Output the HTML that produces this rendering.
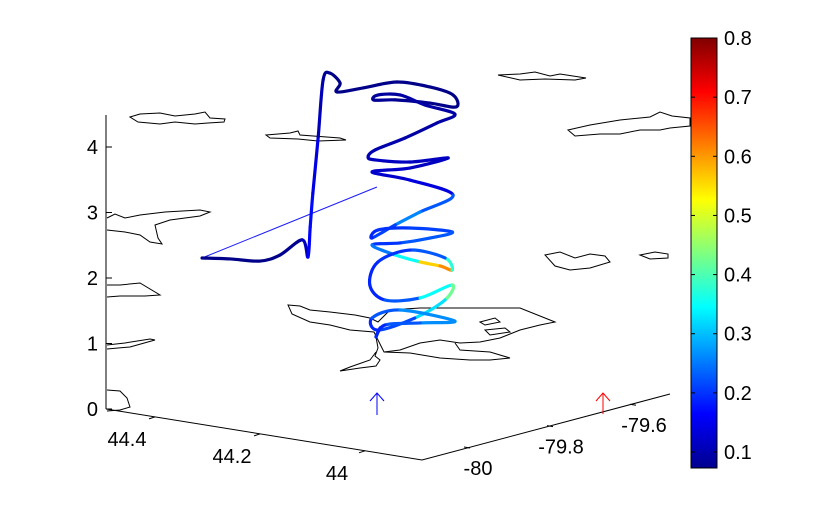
<!DOCTYPE html>
<html><head><meta charset="utf-8"><style>
html,body{margin:0;padding:0;background:#fff;}
svg{display:block;font-family:"Liberation Sans",sans-serif;}
text{font-size:20px;fill:#000;}
</style></head><body>
<svg id="chart" width="816" height="528" viewBox="0 0 816 528" xmlns="http://www.w3.org/2000/svg">
<defs>
<linearGradient id="jet" x1="0" y1="1" x2="0" y2="0">
<stop offset="0" stop-color="#00008f"/><stop offset="0.125" stop-color="#0000ff"/><stop offset="0.375" stop-color="#00ffff"/><stop offset="0.625" stop-color="#ffff00"/><stop offset="0.875" stop-color="#ff0000"/><stop offset="1" stop-color="#800000"/>
</linearGradient>
</defs>
<g fill="none" stroke="#000" stroke-width="1">
<path d="M130,117 L140,114 L160,113 L175,116 L195,114 L205,112 L210,118 L225,119 L224,122 L208,123 L195,124 L175,122 L160,124 L138,122 Z"/>
<path d="M266,135 L290,133 L298,131 L300,135 L340,138 L346,140 L318,141 L298,139 L270,138 Z"/>
<path d="M498,75 L520,74 L535,72 L550,76 L560,74 L586,78 L575,80 L545,79 L520,80 Z"/>
<path d="M568,130 L590,125 L620,120 L650,117 L660,112 L672,116 L690,118 L690,126 L670,128 L660,130 L640,130 L620,134 L600,134 L575,136 Z"/>
<path d="M107,218 L115,214 L125,218 L140,215 L165,212 L200,210 L210,212 L200,216 L170,220 L155,225 L158,238 L162,244 L150,242 L140,235 L125,232 L107,230"/>
<path d="M107,285 L120,285 L140,283 L160,295 L145,296 L120,296 L107,297"/>
<path d="M107,345 L125,343 L150,339 L155,340 L130,347 L107,349"/>
<path d="M107,390 L120,391 L127,398 L130,407 L120,410 L107,411"/>
<path d="M288,305 L300,306 L310,310 L330,312 L355,315 L370,318 L378,322 L390,310 L420,308 L480,308 L520,308 L555,322 L540,325 L520,330 L500,338 L480,342 L460,343 L440,340 L420,343 L400,350 L384,352 L378,340 L374,332 L350,330 L330,325 L310,322 L292,314 Z"/>
<path d="M376,337 L378,348 L375,356 L380,360 L376,366 L360,368 L340,371 L350,367 L370,360 L376,352"/>
<path d="M384,352 L410,353 L440,358 L470,360 L490,360 L510,358 L490,352 L460,350 L455,343"/>
<path d="M480,322 L495,318 L500,322 L485,325 Z"/>
<path d="M485,330 L505,328 L510,332 L490,335 Z"/>
<path d="M545,255 L560,252 L575,258 L590,254 L605,256 L610,262 L590,268 L570,270 L555,266 Z"/>
<path d="M640,255 L655,252 L668,254 L668,258 L650,259 Z"/>
</g>
<g id="axes" stroke="#000" stroke-width="1" fill="none"></g>
<g id="axis-labels"></g>
<g id="marks"></g>
<g stroke="#0000ff" fill="none" stroke-width="1">
<line x1="377" y1="393" x2="377" y2="415"/><polyline points="370,401 377,393 384,401"/>
</g>
<g stroke="#ff0000" fill="none" stroke-width="1">
<line x1="603" y1="393" x2="603" y2="414"/><polyline points="596,401 603,393 610,401"/>
</g>
<g id="cbar"></g>
</svg>
<script>
// ---- data ----
const lat = 44.1;
const lon = [-80.403,-80.340,-80.273,-80.228,-80.178,-80.165,-80.160,-80.154,-80.142,-80.131,-80.116,-80.093,-80.100,-80.041,-79.965,-79.891,-79.839,-79.832,-79.891,-79.969,-80.017,-80.008,-79.958,-79.902,-79.835,-79.875,-79.947,-80.014,-80.030,-80.014,-79.936,-79.850,-79.936,-80.021,-79.936,-79.839,-79.913,-79.969,-80.021,-80.008,-79.936,-79.841,-79.891,-79.958,-80.021,-79.969,-79.913,-79.868,-79.841,-79.857,-79.936,-80.008,-80.026,-79.992,-79.913,-79.841,-79.857,-79.925,-80.008,-80.021,-79.958,-79.835,-79.913,-79.992,-80.012,-80.003];
const alt = [3.390,3.232,3.047,3.037,3.156,2.863,3.315,3.823,4.658,5.510,5.582,5.377,5.254,5.182,5.100,4.855,4.614,4.414,4.608,4.834,4.941,4.998,4.885,4.603,4.311,4.265,4.198,4.167,4.095,4.013,3.803,3.670,3.711,3.844,3.526,3.075,2.983,2.911,2.828,2.921,2.788,2.511,2.531,2.608,2.721,2.449,2.213,2.049,1.926,2.147,2.449,2.428,2.115,1.808,1.660,1.696,1.501,1.377,1.382,1.597,1.577,1.126,1.275,1.423,1.285,1.403];
const val = [0.08,0.08,0.08,0.08,0.09,0.15,0.18,0.16,0.13,0.1,0.08,0.08,0.08,0.08,0.08,0.08,0.08,0.08,0.08,0.09,0.09,0.09,0.1,0.1,0.1,0.1,0.1,0.11,0.11,0.12,0.12,0.12,0.12,0.13,0.13,0.15,0.3,0.22,0.2,0.18,0.22,0.2,0.25,0.2,0.2,0.3,0.4,0.72,0.5,0.25,0.2,0.2,0.18,0.2,0.25,0.45,0.4,0.25,0.18,0.2,0.25,0.28,0.25,0.2,0.18,0.2];
const thinLon = [-80.010,-80.403];
const thinAlt = [3.587,3.390];
const zTicks = [0,1,2,3,4];
const latTicks = [44.4,44.2,44];
const lonTicks = [-80,-79.8,-79.6];
const cbTicks = [0.1,0.2,0.3,0.4,0.5,0.6,0.7,0.8];
const cMin = 0.073, cMax = 0.8;

// ---- projection ----
function px(lo,la,z){return 418-(la-43.904)*550+(lo+80.16)*445;}
function py(lo,la,z){return 461-(la-43.904)*95-(lo+80.16)*148-z*65;}
function zY(z){return 409-z*65.5;}
function latPt(l){const x=365+(44-l)*525;return [x, 409+(x-106)*(51/316)];}
function lonPt(l){return [470+(l+80)*415, 448-(l+80)*107];}
function cbY(v){return 468-(v-cMin)/(cMax-cMin)*430;}
function jet(v){
  let t=(v-cMin)/(cMax-cMin);t=Math.max(0,Math.min(1,t));
  const f=x=>Math.round(255*Math.max(0,Math.min(1,1.5-Math.abs(4*t-x))));
  return `rgb(${f(3)},${f(2)},${f(1)})`;
}
const NS='http://www.w3.org/2000/svg';
function mk(tag,attrs,parent){const e=document.createElementNS(NS,tag);for(const k in attrs)e.setAttribute(k,attrs[k]);parent.appendChild(e);return e;}

// ---- axes ----
const ax=document.getElementById('axes'), al=document.getElementById('axis-labels');
let e=mk('line',{x1:106,y1:115,x2:106,y2:409},ax);


e=mk('polyline',{points:'106,409 422,460 670,394'},ax);


zTicks.forEach(z=>{
  const y=zY(z);
  mk('line',{x1:106,y1:y,x2:112,y2:y},ax);
  const t=mk('text',{x:98,y:y+7,'text-anchor':'end'},al);t.textContent=z;
  
  
});
latTicks.forEach(l=>{
  const [x,y]=latPt(l);
  mk('line',{x1:x,y1:y,x2:x-6,y2:y+2},ax);
  const t=mk('text',{x:x-28,y:y+29,'text-anchor':'middle'},al);t.textContent=l;
  
  
});
lonTicks.forEach(l=>{
  const [x,y]=lonPt(l);
  mk('line',{x1:x,y1:y,x2:x-6,y2:y-1},ax);
  const t=mk('text',{x:x+8,y:y+27,'text-anchor':'middle'},al);t.textContent=l;
  
  
});

// ---- marks ----
const mg=document.getElementById('marks');
e=mk('line',{x1:px(thinLon[0],lat,thinAlt[0]),y1:py(thinLon[0],lat,thinAlt[0]),x2:px(thinLon[1],lat,thinAlt[1]),y2:py(thinLon[1],lat,thinAlt[1]),stroke:'#1a1aff','stroke-width':1},mg);


const P=lon.map((l,i)=>[px(l,lat,alt[i]),py(l,lat,alt[i])]);
for(let i=0;i<P.length-1;i++){
  const p0=P[Math.max(0,i-1)],p1=P[i],p2=P[i+1],p3=P[Math.min(P.length-1,i+2)];
  const c1=[p1[0]+(p2[0]-p0[0])/6,p1[1]+(p2[1]-p0[1])/6];
  const c2=[p2[0]-(p3[0]-p1[0])/6,p2[1]-(p3[1]-p1[1])/6];
  const s=mk('path',{d:`M${p1[0]},${p1[1]} C${c1[0]},${c1[1]} ${c2[0]},${c2[1]} ${p2[0]},${p2[1]}`,fill:'none',stroke:jet((val[i]+val[i+1])/2),'stroke-width':3.2,'stroke-linecap':'round'},mg);
  
  
}

// ---- colorbar ----
const cb=document.getElementById('cbar');
e=mk('rect',{x:691,y:38,width:26,height:430,fill:'url(#jet)',stroke:'#000','stroke-width':1},cb);


cbTicks.forEach(v=>{
  const y=cbY(v);
  mk('line',{x1:691,y1:y,x2:695,y2:y,stroke:'#000'},cb);
  mk('line',{x1:713,y1:y,x2:717,y2:y,stroke:'#000'},cb);
  const t=mk('text',{x:724,y:y+7},cb);t.textContent=v;
  
  
});
</script>
</body></html>
